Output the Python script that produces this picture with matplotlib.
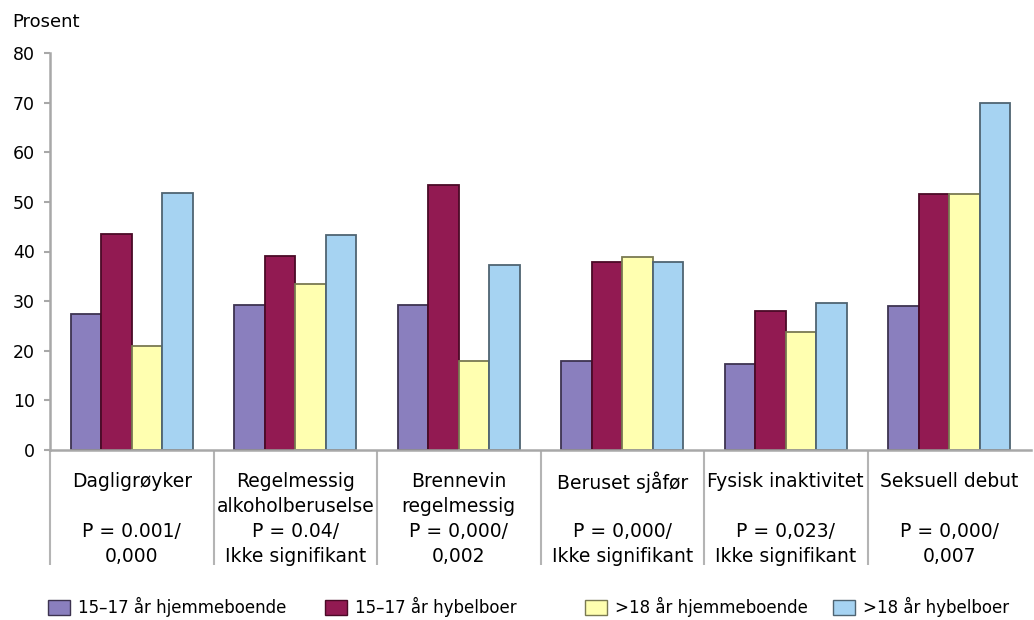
import matplotlib.pyplot as plt
from matplotlib.patches import Patch
import numpy as np

plt.rcParams["font.family"] = ["DejaVu Sans"]

categories = [
    ["Dagligrøyker", "", "P = 0.001/", "0,000"],
    ["Regelmessig", "alkoholberuselse", "P = 0.04/", "Ikke signifikant"],
    ["Brennevin", "regelmessig", "P = 0,000/", "0,002"],
    ["Beruset sjåfør", "", "P = 0,000/", "Ikke signifikant"],
    ["Fysisk inaktivitet", "", "P = 0,023/", "Ikke signifikant"],
    ["Seksuell debut", "", "P = 0,000/", "0,007"],
]
series_names = ["15–17 år hjemmeboende", "15–17 år hybelboer",
                ">18 år hjemmeboende", ">18 år hybelboer"]
hjemme_15_17 = [27.4, 29.2, 29.2, 18.0, 17.3, 29.1]
hybel_15_17 = [43.5, 39.0, 53.4, 37.8, 28.1, 51.6]
hjemme_18 = [20.9, 33.5, 18.0, 38.8, 23.7, 51.5]
hybel_18 = [51.8, 43.4, 37.2, 37.8, 29.6, 70.0]
yticks = [0, 10, 20, 30, 40, 50, 60, 70, 80]

series = [hjemme_15_17, hybel_15_17, hjemme_18, hybel_18]
colors = ["#8a7fbe", "#921a52", "#ffffb0", "#a6d3f2"]
edges = ["#3d3350", "#4a0a26", "#7a7a52", "#4f6472"]

fig = plt.figure(figsize=(10.34, 6.2), dpi=100)
ax = fig.add_axes([50 / 1034, 1 - 450 / 620, 981 / 1034, 397 / 620])

x = np.arange(len(categories))
w = 0.187
for i, (vals, c, ec) in enumerate(zip(series, colors, edges)):
    ax.bar(x + (i - 1.5) * w, vals, width=w, color=c, edgecolor=ec, linewidth=1.3)

ax.set_xlim(-0.5, len(categories) - 0.5)
ax.set_ylim(0, 80)
ax.set_yticks(yticks)
ax.tick_params(axis="y", length=4, width=1.5, color="#a8a8a8", labelsize=12.5, pad=7)

# group separators drawn as long tick marks under the axis
ax.set_xticks(np.arange(len(categories)) - 0.5)
ax.set_xticklabels([])
ax.tick_params(axis="x", length=83, width=1.5, color="#b4b4b4")

for s in ["top", "right"]:
    ax.spines[s].set_visible(False)
for s in ["left", "bottom"]:
    ax.spines[s].set_color("#a8a8a8")
    ax.spines[s].set_linewidth(1.8)

offsets = [23, 41, 59, 77]
for xi, lines in zip(x, categories):
    for off, line in zip(offsets, lines):
        if line:
            ax.annotate(line, xy=(xi, 0), xycoords=("data", "axes fraction"),
                        xytext=(0, -off), textcoords="offset points",
                        ha="center", va="center", fontsize=13.5)

fig.text(12 / 1034, 1 - 22 / 620, "Prosent", fontsize=13, va="center", ha="left")

legend_x = [48, 325, 585, 833]
for lx, name, c, ec in zip(legend_x, series_names, colors, edges):
    fig.legend(handles=[Patch(facecolor=c, edgecolor=ec, linewidth=1)], labels=[name],
               loc="center left", bbox_to_anchor=(lx / 1034, 1 - 607 / 620),
               frameon=False, fontsize=12, handlelength=1.3, handleheight=1.0,
               handletextpad=0.5, borderpad=0, borderaxespad=0)

fig.savefig("out.png", dpi=100)
